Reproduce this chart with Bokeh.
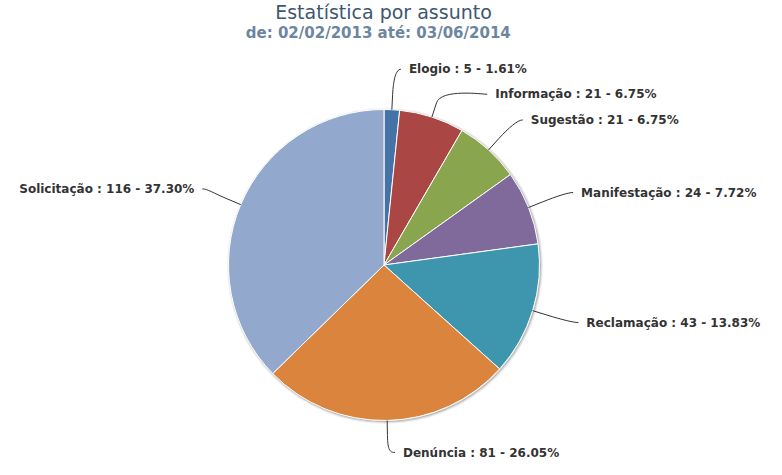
import math
from bokeh.plotting import figure
from bokeh.models import ColumnDataSource, Range1d
from bokeh.core.properties import value
from bokeh.embed import file_html
from bokeh.resources import INLINE

# ---- data ----
title_text = "Estatística por assunto"
subtitle_text = "de:  02/02/2013  até: 03/06/2014"
categories = ["Elogio", "Informação", "Sugestão", "Manifestação", "Reclamação", "Denúncia", "Solicitação"]
counts = [5, 21, 21, 24, 43, 81, 116]

# ---- style / layout ----
colors = ["#4572A7", "#AA4643", "#89A54E", "#80699B", "#3D96AE", "#DB843D", "#92A8CD"]
W, H = 766, 459
CX, CY, R = 383.5, 194.5, 155.5
LABEL_R = 196
GAP = 25
FONT = "DejaVu Sans"
LABEL_SIZE = "12px"

total = float(sum(counts))
starts, ends, mids = [], [], []
cum = 0
for c in counts:
    a0 = 2 * math.pi * cum / total
    cum += c
    a1 = 2 * math.pi * cum / total
    starts.append(math.pi / 2 - a1)
    ends.append(math.pi / 2 - a0)
    mids.append((a0 + a1) / 2)
labels = [f"{n} : {c} - {100.0 * c / total:.2f}%" for n, c in zip(categories, counts)]

n = len(counts)
ys = [CY + LABEL_R * math.cos(m) for m in mids]
right = [i for i in range(n) if mids[i] < math.pi]
left = [i for i in range(n) if mids[i] >= math.pi]


def spread(idx):
    idx = sorted(idx, key=lambda i: -ys[i])
    for k in range(1, len(idx)):
        if ys[idx[k - 1]] - ys[idx[k]] < GAP:
            ys[idx[k]] = ys[idx[k - 1]] - GAP


spread(right)
spread(left)
dxs = [math.sqrt(max(LABEL_R ** 2 - (ys[i] - CY) ** 2, 0.0)) for i in range(n)]
ys = [min(max(y, 7.0), H - 7.0) for y in ys]

p = figure(width=W, height=H, output_backend="svg", toolbar_location=None,
           x_range=Range1d(0, W), y_range=Range1d(0, H),
           x_axis_location=None, y_axis_location=None, min_border=0)
p.grid.visible = False
p.outline_line_color = None
p.background_fill_color = "white"
p.border_fill_color = "white"

# shadow
for w, a in [(5, 0.05), (3, 0.1), (1, 0.15)]:
    p.circle(x=[CX + 1], y=[CY - 1], radius=R, fill_color=None, line_color="black",
             line_alpha=a, line_width=w)

src = ColumnDataSource(dict(start=starts, end=ends, color=colors))
p.wedge(x=CX, y=CY, radius=R, start_angle="start", end_angle="end", direction="anticlock",
        fill_color="color", line_color="white", line_width=1, source=src)

# connectors and labels
bx0, by0, bx1, by1, bcx0, bcy0, bcx1, bcy1 = [], [], [], [], [], [], [], []
lxs, lys = [], []
rt = dict(x=[], y=[], text=[])
lt = dict(x=[], y=[], text=[])
for i in range(n):
    m = mids[i]
    s, c = math.sin(m), math.cos(m)
    base = (CX + R * s, CY + R * c)
    b2 = (CX + (R + 15) * s, CY + (R + 15) * c)
    cp2 = (CX + (R + 30) * s, CY + (R + 30) * c)
    y = ys[i]
    if i in right:
        ax = CX + dxs[i]
        start = (ax + 7, y)
        cp1 = (ax + 2, y)
        rt["x"].append(ax + 15); rt["y"].append(y); rt["text"].append(labels[i])
    else:
        ax = CX - dxs[i]
        start = (ax - 1, y)
        cp1 = (ax + 4, y)
        lt["x"].append(ax - 9); lt["y"].append(y); lt["text"].append(labels[i])
    bx0.append(start[0]); by0.append(start[1]); bx1.append(b2[0]); by1.append(b2[1])
    bcx0.append(cp1[0]); bcy0.append(cp1[1]); bcx1.append(cp2[0]); bcy1.append(cp2[1])
    lxs.append([b2[0], base[0]]); lys.append([b2[1], base[1]])

p.bezier(x0=bx0, y0=by0, x1=bx1, y1=by1, cx0=bcx0, cy0=bcy0, cx1=bcx1, cy1=bcy1,
         line_color="#333333", line_width=1)
p.multi_line(xs=lxs, ys=lys, line_color="#333333", line_width=1)

p.text(x="x", y="y", text="text", source=ColumnDataSource(rt), text_align="left",
       text_baseline="middle", text_font=value(FONT), text_font_size=LABEL_SIZE,
       text_font_style="bold", text_color="#333333")
p.text(x="x", y="y", text="text", source=ColumnDataSource(lt), text_align="right",
       text_baseline="middle", text_font=value(FONT), text_font_size=LABEL_SIZE,
       text_font_style="bold", text_color="#333333")

# titles
p.text(x=[W / 2], y=[H - 11], text=[title_text], text_align="center", text_baseline="middle",
       text_font=value(FONT), text_font_size="19px", text_color="#3E576F")
p.text(x=[W / 2], y=[H - 32], text=[subtitle_text], text_align="center", text_baseline="middle",
       text_font=value(FONT), text_font_size="15px", text_font_style="bold", text_color="#6D869F")

open("out.html", "w").write(file_html(p, INLINE))
